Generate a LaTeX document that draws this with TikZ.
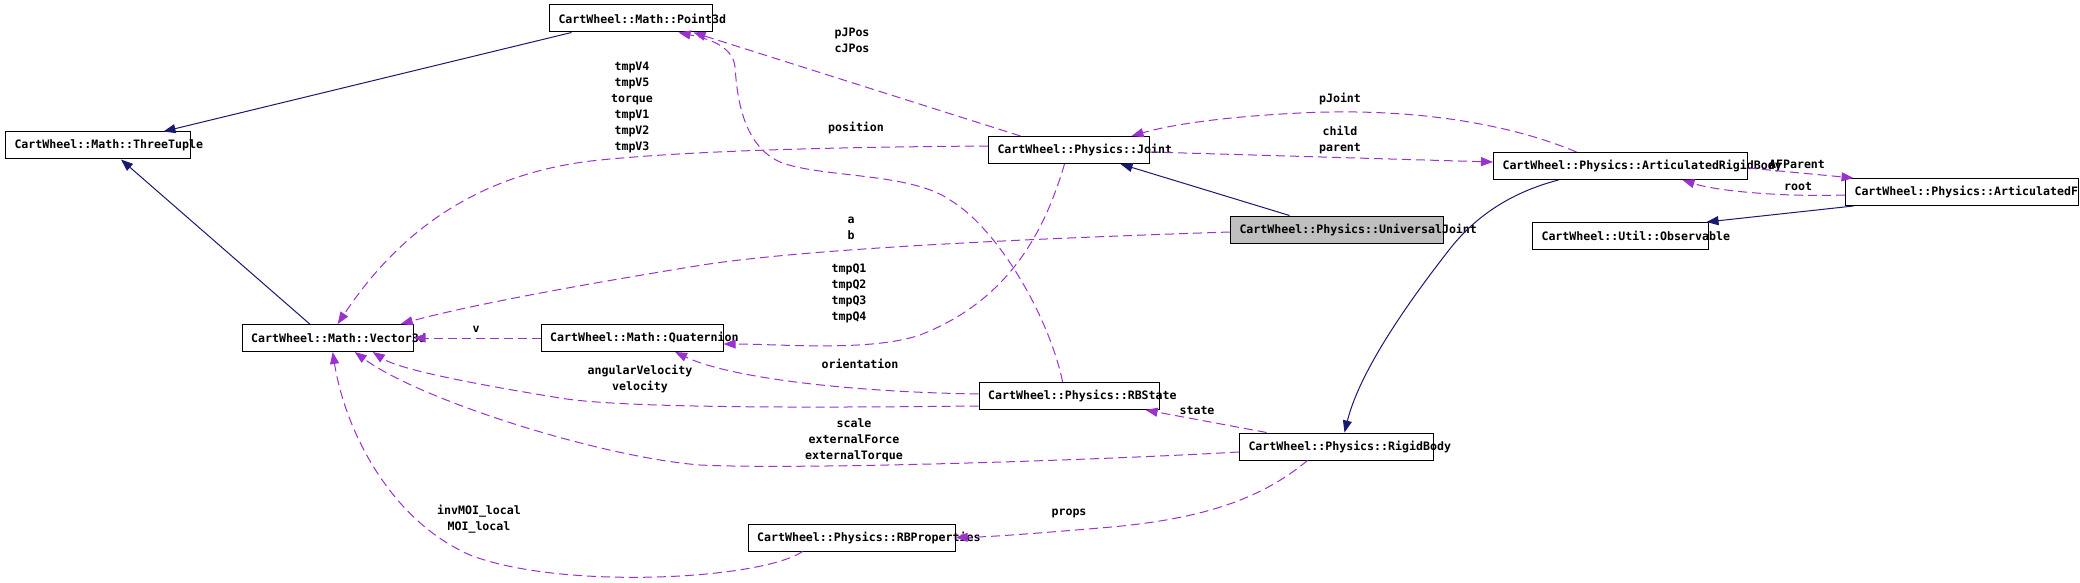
\documentclass[tikz,border=0pt]{standalone}
\usepackage{fontspec}
\usetikzlibrary{arrows.meta}
\newfontfamily\dxfont{DejaVu Sans Mono}
\definecolor{dxblue}{HTML}{191970}
\definecolor{dxpurple}{HTML}{9A32CD}
\definecolor{dxgray}{HTML}{BFBFBF}
\hyphenpenalty=10000
\exhyphenpenalty=10000

\begin{document}
\begin{tikzpicture}[x=1pt,y=-1pt,box/.style={draw,line width=1pt,anchor=west,align=left,minimum height=27pt,inner xsep=9pt,inner ysep=0pt,font=\fontsize{11.6pt}{16pt}\dxfont\bfseries},lbl/.style={align=center,inner sep=0pt,font=\fontsize{11.6pt}{16pt}\dxfont\bfseries},inh/.style={draw=dxblue,line width=1pt,->},dep/.style={draw=dxpurple,line width=1pt,dash pattern=on 9pt off 5pt,->},>={Triangle[length=12pt,width=9pt]}]
\path[use as bounding box,fill=white] (0,0) rectangle (2080,583);
\node[box,text width=167pt] (threeTuple) at (5,145.5) {CartWheel::Math::ThreeTuple};
\node[box,text width=145pt] (pointThreeD) at (549,18.5) {CartWheel::Math::Point3d};
\node[box,text width=153pt] (vectorThreeD) at (241.7,338) {CartWheel::Math::Vector3d};
\node[box,text width=164pt] (quaternion) at (540.6,338) {CartWheel::Math::Quaternion};
\node[box,text width=143pt] (joint) at (988,150) {CartWheel::Physics::Joint};
\node[box,fill=dxgray,text width=195pt] (universalJoint) at (1230,229.5) {CartWheel::Physics::UniversalJoint};
\node[box,text width=236pt] (artRigidBody) at (1493,166) {CartWheel::Physics::ArticulatedRigidBody};
\node[box,text width=215pt] (artFigure) at (1845,192) {CartWheel::Physics::ArticulatedF};
\node[box,text width=158pt] (observable) at (1532,236) {CartWheel::Util::Observable};
\node[box,text width=162pt] (rbState) at (978.6,396) {CartWheel::Physics::RBState};
\node[box,text width=176pt] (rigidBody) at (1239,446.5) {CartWheel::Physics::RigidBody};
\node[box,text width=189pt] (rbProps) at (747.6,537.5) {CartWheel::Physics::RBProperties};
\draw[inh] ([xshift=-59.5pt]pointThreeD.south) -- ([xshift=65.5pt]threeTuple.north);
\draw[inh] ([xshift=-18pt]vectorThreeD.north) -- ([xshift=23pt]threeTuple.south);
\draw[inh] ([xshift=-47.5pt]universalJoint.north) -- ([xshift=51.5pt]joint.south);
\draw[inh] ([xshift=-62pt]artRigidBody.south) .. controls (1520,190) and (1480,210) .. (1449,250) .. controls (1410,300) and (1360,370) .. ([xshift=8pt]rigidBody.north);
\draw[inh] ([xshift=-108.5pt]artFigure.south) -- ([xshift=86pt]observable.north);
\draw[dep] ([xshift=-6.5pt]rbState.north) .. controls (1050,320) and (1000,230) .. (950,200) .. controls (910,172) and (820,178) .. (780,162) .. controls (742,145) and (737,95) .. (735,67) .. controls (733,45) and (705,38) .. ([xshift=47.5pt]pointThreeD.south) node[lbl] at (856,128) {position};
\draw[dep] ([xshift=-48.5pt]joint.north) -- ([xshift=62.5pt]pointThreeD.south) node[lbl] at (852,40) {pJPos\\cJPos};
\draw[dep] ([yshift=4pt]joint.west) .. controls (850,147) and (700,150) .. (600,160) .. controls (480,172) and (400,230) .. ([xshift=10pt]vectorThreeD.north) node[lbl] at (632,107) {tmpV4\\tmpV5\\torque\\tmpV1\\tmpV2\\tmpV3};
\draw[dep] ([yshift=-2.5pt]universalJoint.west) .. controls (1050,238) and (800,248) .. (690,267) .. controls (580,285) and (470,305) .. ([xshift=73pt]vectorThreeD.north) node[lbl] at (851,228.5) {a\\b};
\draw[dep] ([xshift=-4.5pt]joint.south) .. controls (1045,230) and (1010,300) .. (920,335) .. controls (870,352) and (780,344) .. ([yshift=-6pt]quaternion.east) node[lbl] at (849,293.5) {tmpQ1\\tmpQ2\\tmpQ3\\tmpQ4};
\draw[dep] ([yshift=-2pt]joint.east) -- ([yshift=4pt]artRigidBody.west) node[lbl] at (1340,140) {child\\parent};
\draw[dep] ([xshift=-44pt]artRigidBody.north) .. controls (1500,120) and (1400,108) .. (1300,113) .. controls (1220,117) and (1170,125) .. ([xshift=62.5pt]joint.north) node[lbl] at (1340,99) {pJoint};
\draw[dep] ([yshift=-2pt]artRigidBody.east) -- ([xshift=-108.5pt]artFigure.north) node[lbl] at (1797,164) {AFParent};
\draw[dep] ([yshift=-3pt]artFigure.west) .. controls (1790,197) and (1720,192) .. ([xshift=62pt]artRigidBody.south) node[lbl] at (1798,187) {root};
\draw[dep] (quaternion.west) -- (vectorThreeD.east) node[lbl] at (476,329) {v};
\draw[dep] ([yshift=2pt]rbState.west) .. controls (850,392) and (730,378) .. ([xshift=43pt]quaternion.south) node[lbl] at (860,364) {orientation};
\draw[dep] ([yshift=-10pt]rbState.west) .. controls (800,408) and (620,408) .. (560,398) .. controls (480,385) and (400,370) .. ([xshift=45pt]vectorThreeD.south) node[lbl] at (640,379) {angularVelocity\\velocity};
\draw[dep] ([yshift=-5.5pt]rigidBody.west) .. controls (1100,460) and (800,470) .. (700,465) .. controls (600,457) and (420,400) .. ([xshift=27pt]vectorThreeD.south) node[lbl] at (854,440) {scale\\externalForce\\externalTorque};
\draw[dep] ([xshift=-70pt]rigidBody.north) -- ([xshift=76.5pt]rbState.south) node[lbl] at (1197,411) {state};
\draw[dep] ([xshift=-29pt]rigidBody.south) .. controls (1260,500) and (1200,520) .. (1100,528) .. controls (1040,533) and (990,537) .. (rbProps.east) node[lbl] at (1069,513) {props};
\draw[dep] ([xshift=-49pt]rbProps.south) .. controls (760,580) and (560,590) .. (470,555) .. controls (390,520) and (345,430) .. ([xshift=5pt]vectorThreeD.south) node[lbl] at (479,519) {invMOI\_local\\MOI\_local};
\end{tikzpicture}
\end{document}
